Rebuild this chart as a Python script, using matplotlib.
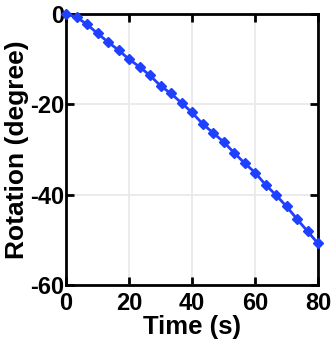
import numpy as np
import matplotlib.pyplot as plt

# data
time_s = np.linspace(0, 80, 25)
rotation_deg = [0.0, -0.7, -2.3, -4.3, -6.2, -8.0, -10.0, -11.7, -13.6, -15.9,
                -17.6, -19.7, -21.8, -24.3, -26.3, -28.3, -30.7, -33.0, -35.1,
                -37.8, -40.1, -42.6, -45.4, -48.1, -50.8]
xticks = [0, 20, 40, 60, 80]
yticks = [-60, -40, -20, 0]

plt.rcParams['font.family'] = ['Liberation Sans', 'DejaVu Sans']
plt.rcParams['font.weight'] = 'bold'
plt.rcParams['axes.unicode_minus'] = False

fig = plt.figure(figsize=(3.32, 3.52), dpi=100)
ax = fig.add_axes([66/332, 1 - 285/352, 252/332, 271/352])

ax.plot(time_s, rotation_deg, color='#2040ff', lw=2, marker='D', ms=5.5,
        clip_on=False, zorder=3)

ax.set_xlim(0, 80)
ax.set_ylim(-60, 0)
ax.set_xticks(xticks)
ax.set_yticks(yticks)
ax.grid(True, color='#e8e8e8', lw=1.2)
ax.set_axisbelow(True)
for s in ax.spines.values():
    s.set_linewidth(2)
ax.tick_params(direction='in', length=6, width=2, top=True, right=True,
               labelsize=17)
ax.tick_params(axis='x', pad=5)
ax.tick_params(axis='y', pad=1)
for lab in ax.get_xticklabels() + ax.get_yticklabels():
    lab.set_fontweight('bold')
ax.set_xlabel('Time (s)', fontsize=18.5, fontweight='bold', labelpad=0)
ax.set_ylabel('Rotation (degree)', fontsize=19, fontweight='bold', labelpad=1)

fig.savefig('out.png', dpi=100)
